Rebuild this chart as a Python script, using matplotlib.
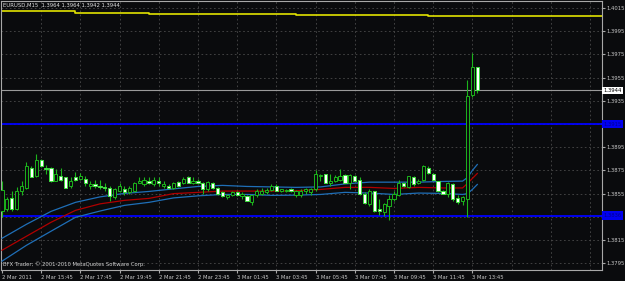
import numpy as np
import matplotlib
matplotlib.use('Agg')
import matplotlib.pyplot as plt
from matplotlib import font_manager
import matplotlib.transforms as mtransforms

# narrow font if we have one (MT4 labels are condensed)
names = {f.name for f in font_manager.fontManager.ttflist}
cond = any(f.name == 'DejaVu Sans' and f.stretch == 'condensed' for f in font_manager.fontManager.ttflist)
if 'Liberation Sans Narrow' in names:
    plt.rcParams['font.family'] = ['Liberation Sans Narrow', 'DejaVu Sans']
    FS = 4.6
elif cond:
    plt.rcParams['font.family'] = ['DejaVu Sans']
    plt.rcParams['font.stretch'] = 'condensed'
    FS = 4.2
else:
    plt.rcParams['font.family'] = ['DejaVu Sans']
    FS = 3.8

# EURUSD M15 bars, 2 Mar 13:45 .. 3 Mar 14:15
opens = [1.3840, 1.3842, 1.3851, 1.3842, 1.3857, 1.3860, 1.3877, 1.3870, 1.3884, 1.3877,
         1.3877, 1.3866, 1.3870, 1.3869, 1.3862, 1.3869, 1.3868, 1.3868, 1.3862, 1.3863,
         1.3862, 1.3861, 1.3860, 1.3852, 1.3857, 1.3859, 1.3856, 1.3857, 1.3864, 1.3863,
         1.3866, 1.3863, 1.3866, 1.3862, 1.3862, 1.3860, 1.3865, 1.3864, 1.3869, 1.3864,
         1.3866, 1.3864, 1.3859, 1.3864, 1.3860, 1.3856, 1.3852, 1.3854, 1.3856, 1.3853,
         1.3853, 1.3848, 1.3854, 1.3855, 1.3856, 1.3858, 1.3862, 1.3857, 1.3857, 1.3859,
         1.3854, 1.3854, 1.3857, 1.3856, 1.3859, 1.3870, 1.3872, 1.3864, 1.3866, 1.3867,
         1.3871, 1.3864, 1.3870, 1.3867, 1.3855, 1.3846, 1.3857, 1.3842, 1.3839, 1.3844,
         1.3850, 1.3854, 1.3864, 1.3861, 1.3869, 1.3864, 1.3867, 1.3877, 1.3872, 1.3866,
         1.3857, 1.3855, 1.3863, 1.3851, 1.3849, 1.3850, 1.3940, 1.3964]
highs = [1.3866, 1.3852, 1.3857, 1.3861, 1.3866, 1.3882, 1.3879, 1.3889, 1.3885, 1.3880,
         1.3878, 1.3876, 1.3877, 1.3869, 1.3869, 1.3874, 1.3873, 1.3870, 1.3866, 1.3867,
         1.3867, 1.3864, 1.3862, 1.3860, 1.3864, 1.3862, 1.3862, 1.3865, 1.3869, 1.3869,
         1.3869, 1.3869, 1.3869, 1.3866, 1.3863, 1.3865, 1.3866, 1.3869, 1.3870, 1.3869,
         1.3868, 1.3865, 1.3866, 1.3865, 1.3861, 1.3857, 1.3855, 1.3857, 1.3857, 1.3856,
         1.3854, 1.3854, 1.3859, 1.3860, 1.3860, 1.3863, 1.3863, 1.3859, 1.3859, 1.3860,
         1.3858, 1.3859, 1.3860, 1.3860, 1.3875, 1.3872, 1.3872, 1.3872, 1.3871, 1.3876,
         1.3872, 1.3872, 1.3871, 1.3869, 1.3856, 1.3859, 1.3857, 1.3850, 1.3847, 1.3854,
         1.3857, 1.3867, 1.3865, 1.3870, 1.3870, 1.3868, 1.3880, 1.3879, 1.3873, 1.3866,
         1.3858, 1.3865, 1.3864, 1.3854, 1.3853, 1.3953, 1.3976, 1.3964]
lows = [1.3835, 1.3840, 1.3840, 1.3841, 1.3854, 1.3859, 1.3869, 1.3869, 1.3878, 1.3872,
        1.3865, 1.3866, 1.3866, 1.3860, 1.3860, 1.3866, 1.3867, 1.3862, 1.3859, 1.3860,
        1.3859, 1.3857, 1.3849, 1.3850, 1.3856, 1.3854, 1.3855, 1.3856, 1.3864, 1.3862,
        1.3863, 1.3862, 1.3862, 1.3860, 1.3859, 1.3859, 1.3861, 1.3863, 1.3864, 1.3863,
        1.3863, 1.3855, 1.3857, 1.3859, 1.3854, 1.3852, 1.3850, 1.3853, 1.3853, 1.3850,
        1.3849, 1.3845, 1.3852, 1.3854, 1.3855, 1.3857, 1.3857, 1.3856, 1.3856, 1.3856,
        1.3852, 1.3852, 1.3855, 1.3854, 1.3857, 1.3866, 1.3864, 1.3862, 1.3865, 1.3866,
        1.3864, 1.3859, 1.3866, 1.3854, 1.3846, 1.3844, 1.3839, 1.3837, 1.3836, 1.3832,
        1.3849, 1.3853, 1.3861, 1.3860, 1.3862, 1.3863, 1.3866, 1.3872, 1.3867, 1.3856,
        1.3855, 1.3852, 1.3849, 1.3846, 1.3845, 1.3835, 1.3938, 1.3942]
closes = [1.3858, 1.3850, 1.3842, 1.3857, 1.3862, 1.3879, 1.3869, 1.3884, 1.3879, 1.3876,
          1.3866, 1.3872, 1.3867, 1.3860, 1.3866, 1.3867, 1.3870, 1.3864, 1.3863, 1.3862,
          1.3861, 1.3860, 1.3853, 1.3859, 1.3862, 1.3856, 1.3860, 1.3864, 1.3866, 1.3867,
          1.3864, 1.3867, 1.3864, 1.3863, 1.3860, 1.3864, 1.3862, 1.3868, 1.3864, 1.3866,
          1.3864, 1.3859, 1.3865, 1.3860, 1.3855, 1.3853, 1.3854, 1.3856, 1.3854, 1.3855,
          1.3849, 1.3854, 1.3857, 1.3857, 1.3858, 1.3862, 1.3857, 1.3859, 1.3858, 1.3857,
          1.3857, 1.3857, 1.3859, 1.3859, 1.3872, 1.3871, 1.3864, 1.3866, 1.3869, 1.3870,
          1.3864, 1.3871, 1.3866, 1.3855, 1.3847, 1.3857, 1.3840, 1.3840, 1.3846, 1.3850,
          1.3855, 1.3864, 1.3862, 1.3870, 1.3863, 1.3866, 1.3879, 1.3873, 1.3867, 1.3857,
          1.3855, 1.3864, 1.3850, 1.3848, 1.3852, 1.3939, 1.3964, 1.3944]

# envelope lines, read at a few bars
env_bars = [0, 5, 10, 15, 20, 25, 30, 35, 40, 45, 50, 55, 60, 65, 70, 75, 80, 85, 90, 94, 95, 96, 97]
env_upper = [1.38165, 1.38286, 1.38397, 1.38475, 1.38522, 1.38552, 1.38569, 1.38591, 1.38612,
             1.38621, 1.38612, 1.38608, 1.38604, 1.38608, 1.38634, 1.38649, 1.38649, 1.38649,
             1.38655, 1.38658, 1.38689, 1.38750, 1.38801]
env_mid = [1.38062, 1.38183, 1.38303, 1.38406, 1.38462, 1.38492, 1.38509, 1.38550, 1.38561,
           1.38572, 1.38572, 1.38572, 1.38575, 1.38586, 1.38604, 1.38604, 1.38595, 1.38604,
           1.38599, 1.38599, 1.38638, 1.38681, 1.38724]
env_lower = [1.37968, 1.38105, 1.38226, 1.38346, 1.38400, 1.38449, 1.38475, 1.38513, 1.38531,
             1.38543, 1.38543, 1.38535, 1.38537, 1.38543, 1.38561, 1.38555, 1.38543, 1.38555,
             1.38552, 1.38543, 1.38550, 1.38586, 1.38629]

# yellow line near the top (steps)
yellow_bars = [-1, 15, 15, 30, 30, 60, 60, 87, 87, 123]
yellow_vals = [1.4012, 1.4012, 1.4011, 1.4011, 1.4010, 1.4010, 1.4009, 1.4009, 1.4008, 1.4008]

hlines_blue = [1.3915, 1.3836]
bid = 1.3944

price_ticks = [1.3795, 1.3815, 1.3835, 1.3855, 1.3875, 1.3895, 1.3915, 1.3935,
               1.3955, 1.3975, 1.3995, 1.4015]
# 1.3835 and 1.3915 sit under the blue line boxes
price_labels = ['1.3795', '1.3815', '', '1.3855', '1.3875', '1.3895', '', '1.3935',
                '1.3955', '1.3975', '1.3995', '1.4015']
time_tick_bars = [0, 8, 16, 24, 32, 40, 48, 56, 64, 72, 80, 88, 96]
time_labels = ['2 Mar 2011', '2 Mar 15:45', '2 Mar 17:45', '2 Mar 19:45', '2 Mar 21:45',
               '2 Mar 23:45', '3 Mar 01:45', '3 Mar 03:45', '3 Mar 05:45', '3 Mar 07:45',
               '3 Mar 09:45', '3 Mar 11:45', '3 Mar 13:45']
vgrid_bars = [8, 16, 24, 32, 40, 48, 56, 64, 72, 80, 88, 96, 104, 112, 120]

BG = '#0a0b0d'
GREEN = '#1cb41c'
W, H = 625, 281
fig = plt.figure(figsize=(W / 100, H / 100), dpi=100, facecolor=BG)
ax = fig.add_axes([1 / W, (H - 270) / H, 600.5 / W, 269 / H], facecolor=BG)

ax.set_xlim(-0.2, 122.35)
ax.set_ylim(1.37892, 1.40210)

# grid
for p in price_ticks:
    ax.axhline(p, color='#4a4a4a', lw=0.6, ls=(0, (2, 3)), zorder=0)
ax.vlines(vgrid_bars, 1.37892, 1.40210, color='#4a4a4a', lw=0.6, ls=(0, (2, 3)), zorder=0)

# lines
ax.plot(yellow_bars, yellow_vals, color='#e2e200', lw=1.2, zorder=2)
for p in hlines_blue:
    ax.axhline(p, color='#0000ff', lw=1.3, zorder=2)
ax.axhline(bid, color='#9a9a9a', lw=0.8, zorder=2)
ax.plot(env_bars, env_upper, color='#1f6fb8', lw=0.9, zorder=3)
ax.plot(env_bars, env_lower, color='#1f6fb8', lw=0.9, zorder=3)
ax.plot(env_bars, env_mid, color='#b00000', lw=0.9, zorder=3)

# candles
o = np.array(opens); h = np.array(highs); l = np.array(lows); c = np.array(closes)
x = np.arange(len(o))
ax.vlines(x, l, h, color=GREEN, lw=0.8, zorder=4)
bottom = np.minimum(o, c)
height = np.maximum(np.abs(c - o), 0.00004)
up = c >= o
ax.bar(x[up], height[up], bottom=bottom[up], width=0.65, color=BG, edgecolor=GREEN,
       linewidth=0.7, zorder=5)
ax.bar(x[~up], height[~up], bottom=bottom[~up], width=0.65, color='white', edgecolor='#3ce03c',
       linewidth=0.7, zorder=5)

# axes look
for s in ax.spines.values():
    s.set_color('#a8a8a8')
    s.set_linewidth(0.8)
ax.yaxis.tick_right()
ax.set_yticks(price_ticks)
ax.set_yticklabels(price_labels)
ax.tick_params(axis='y', colors='#a8a8a8', labelcolor='#c8c8c8', length=2, pad=1.5, labelsize=FS)
ax.set_xticks(time_tick_bars)
ax.set_xticklabels(time_labels)
for t in ax.get_xticklabels():
    t.set_horizontalalignment('left')
ax.tick_params(axis='x', colors='#a8a8a8', labelcolor='#c8c8c8', length=2, pad=1.5, labelsize=FS)

# price boxes on the right
tr = mtransforms.blended_transform_factory(ax.transAxes, ax.transData)
ax.text(1.003, bid, f'{bid:.4f}', transform=tr, fontsize=FS, color='black', va='center',
        ha='left', zorder=10, bbox=dict(boxstyle='square,pad=0.2', fc='white', ec='none'))
for p in hlines_blue:
    ax.text(1.003, p, f'{p:.4f}', transform=tr, fontsize=FS, color='#000090', va='center',
            ha='left', zorder=10, bbox=dict(boxstyle='square,pad=0.3', fc='#0000f0', ec='none'))

fig.text(3 / W, 1 - 5.5 / H, 'EURUSD,M15  1.3964 1.3964 1.3942 1.3944', color='#e0e0e0',
         fontsize=FS, va='center', ha='left')
fig.text(3 / W, 1 - 264 / H, 'BFX Trader; \u00a9 2001-2010 MetaQuotes Software Corp.',
         color='#d0d0d0', fontsize=FS, va='center', ha='left')

fig.savefig('out.png', dpi=100, facecolor=BG)
